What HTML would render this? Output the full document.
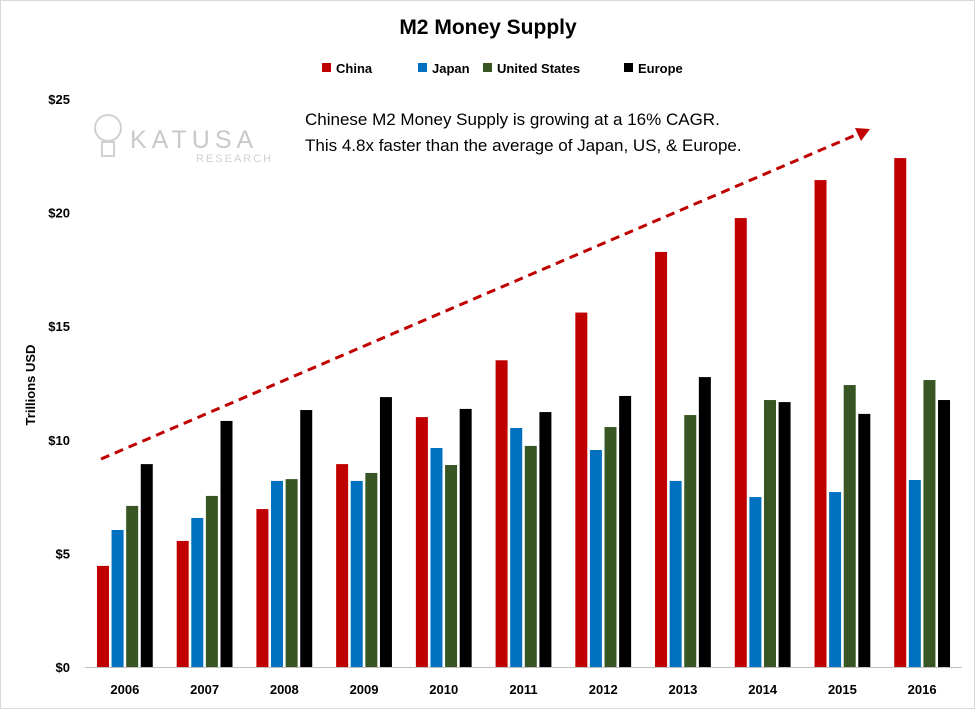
<!DOCTYPE html>
<html><head><meta charset="utf-8"><style>
html,body{margin:0;padding:0;background:#fff;}
svg{display:block;font-family:"Liberation Sans",Arial,sans-serif;}
</style></head><body>
<svg id="chart" width="975" height="709" viewBox="0 0 975 709">
<rect x="0.5" y="0.5" width="974" height="708" fill="#fff" stroke="#d9d9d9"/>
<text x="488" y="34" text-anchor="middle" font-size="21" font-weight="bold" fill="#000">M2 Money Supply</text>
<g id="legend"></g>
<text transform="translate(35,385) rotate(-90)" text-anchor="middle" font-size="13" font-weight="bold" fill="#000">Trillions USD</text>
<g opacity="0.45">
<circle cx="108" cy="128" r="13" fill="none" stroke="#999" stroke-width="2"/>
<rect x="102" y="142" width="12" height="14" fill="none" stroke="#999" stroke-width="2"/>
<text x="130" y="148" font-size="25" letter-spacing="5" fill="#888">KATUSA</text>
<text x="196" y="162" font-size="11" letter-spacing="2" fill="#999">RESEARCH</text>
</g>
<text x="305" y="125" font-size="17" fill="#000">Chinese M2 Money Supply is growing at a 16% CAGR.</text>
<text x="305" y="151" font-size="17" fill="#000">This 4.8x faster than the average of Japan, US, &amp; Europe.</text>
<g id="yaxis"></g><g id="bars"></g><g id="xaxis"></g>
<line x1="101" y1="459" x2="858" y2="134" stroke="#c00000" stroke-width="3" stroke-dasharray="9,6"/>
<polygon points="870,129 855,128 861,141" fill="#c00000"/>
</svg>
<script>
const years=["2006","2007","2008","2009","2010","2011","2012","2013","2014","2015","2016"];
const china=[4.45,5.55,6.95,8.93,11.0,13.5,15.6,18.27,19.76,21.43,22.4];
const japan=[6.03,6.56,8.19,8.19,9.64,10.52,9.55,8.19,7.48,7.7,8.23];
const us=[7.09,7.53,8.27,8.54,8.89,9.73,10.56,11.09,11.75,12.41,12.63];
const europe=[8.93,10.83,11.31,11.88,11.36,11.22,11.93,12.76,11.66,11.14,11.75];
const seriesNames=["China","Japan","United States","Europe"];
const yTicks=[0,5,10,15,20,25];
const NS="http://www.w3.org/2000/svg";
const svg=document.getElementById('chart');
const colors=["#c00000","#0070c0","#375623","#000000"];
const series=[china,japan,us,europe];
const x0=85,x1=962,y0=667,y1=99,ymax=25;
const band=(x1-x0)/years.length;
const yS=v=>y0-(v/ymax)*(y0-y1);
function mk(t,a,p){const e=document.createElementNS(NS,t);for(const k in a)e.setAttribute(k,a[k]);p.appendChild(e);return e;}
const ya=document.getElementById('yaxis');
yTicks.forEach(v=>{const t=mk('text',{x:70,y:yS(v)+5,'text-anchor':'end','font-size':13,'font-weight':'bold'},ya);t.textContent='$'+v;

});
const xa=document.getElementById('xaxis');
const ax=mk('line',{x1:x0,x2:x1,y1:y0+0.5,y2:y0+0.5,stroke:'#bfbfbf','stroke-width':1},xa);


const bg=document.getElementById('bars');
const bw=12,step=14.6;
years.forEach((yr,i)=>{const c=x0+band*(i+0.5);
const t=mk('text',{x:c,y:694,'text-anchor':'middle','font-size':13,'font-weight':'bold'},xa);t.textContent=yr;


series.forEach((s,j)=>{const bx=c+(j-1.5)*step-bw/2;const r=mk('rect',{x:bx,y:yS(s[i]),width:bw,height:y0-yS(s[i]),fill:colors[j]},bg);

});});
const lg=document.getElementById('legend');
const lx=[322,418,483,624];
seriesNames.forEach((n,j)=>{mk('rect',{x:lx[j],y:63,width:9,height:9,fill:colors[j]},lg);
const t=mk('text',{x:lx[j]+14,y:73,'font-size':13,'font-weight':'bold'},lg);t.textContent=n;

});
</script>
</body></html>
